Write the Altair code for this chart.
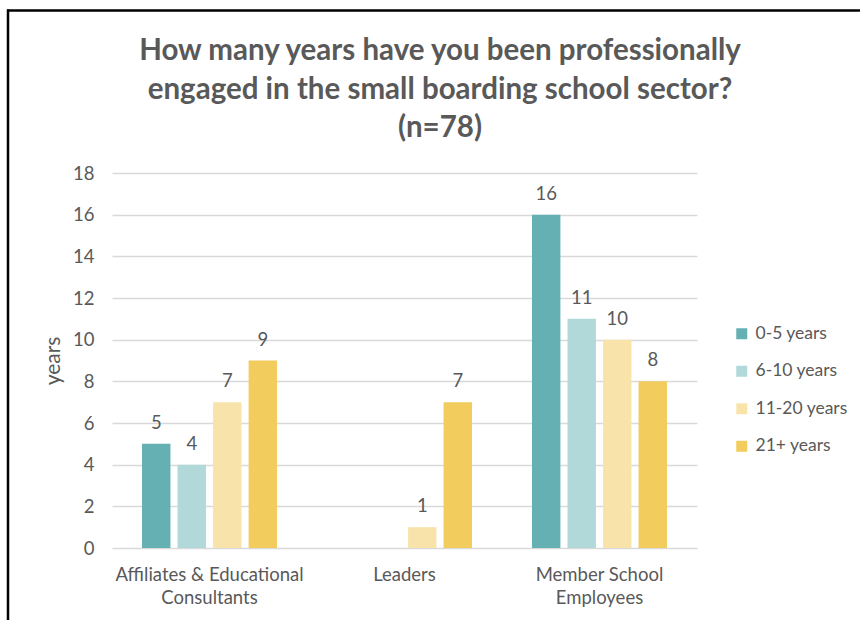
import altair as alt
import pandas as pd

categories = ["Affiliates & Educational Consultants", "Leaders", "Member School Employees"]
series = ["0-5 years", "6-10 years", "11-20 years", "21+ years"]
v_0_5 = [5, None, 16]
v_6_10 = [4, None, 11]
v_11_20 = [7, 1, 10]
v_21_plus = [9, 7, 8]
colors = ["#64B0B2", "#B2D9D9", "#F8E4AB", "#F2CC5C"]
title_lines = ["How many years have you been professionally",
               "engaged in the small boarding school sector?", "(n=78)"]

rows = []
for s, vals in zip(series, [v_0_5, v_6_10, v_11_20, v_21_plus]):
    for c, v in zip(categories, vals):
        rows.append({"category": c, "series": s, "value": v})
df = pd.DataFrame(rows)

FONT = "Lato"
GRAY = "#595959"

label_expr = ("datum.label == 'Affiliates & Educational Consultants' ? "
              "['Affiliates & Educational', 'Consultants'] : "
              "datum.label == 'Member School Employees' ? "
              "['Member School', 'Employees'] : datum.label")

x = alt.X("category:N", sort=categories,
          scale=alt.Scale(domain=categories, paddingInner=0.3077, paddingOuter=0.154),
          axis=alt.Axis(title=None, labelExpr=label_expr, labelAngle=0, ticks=False,
                        domain=False, labelPadding=17, labelFontSize=18.5, labelColor=GRAY,
                        labelFont=FONT, labelLineHeight=23.5, labelBaseline="top",
                        labelLimit=400))
xo = alt.XOffset("series:N", sort=series,
                 scale=alt.Scale(domain=series, paddingInner=0.2, paddingOuter=0))
y = alt.Y("value:Q",
          scale=alt.Scale(domain=[0, 18], nice=False),
          axis=alt.Axis(title="years", values=list(range(0, 19, 2)), tickCount=10,
                        domain=False, ticks=False, labelPadding=18, labelFontSize=18.5,
                        labelColor=GRAY, labelFont=FONT, titleFont=FONT,
                        titleFontSize=21, titleFontWeight="normal", titleColor=GRAY,
                        titlePadding=9, gridColor="#D9D9D9", gridWidth=1.5))

color = alt.Color("series:N", sort=series,
                  scale=alt.Scale(domain=series, range=colors),
                  legend=alt.Legend(title=None, orient="none", legendX=621, legendY=152,
                                    symbolType="square", symbolSize=121, symbolStrokeWidth=0,
                                    labelFontSize=17.5, labelFont=FONT, labelColor=GRAY,
                                    rowPadding=18.5, labelOffset=5, padding=0, labelLimit=300))

bars = alt.Chart(df).mark_bar().encode(x=x, xOffset=xo, y=y, color=color)
labels = alt.Chart(df).transform_filter("isValid(datum.value)").mark_text(
    baseline="bottom", dy=-11, fontSize=18.5, font=FONT, color=GRAY
).encode(x=x, xOffset=xo, y=y, text="value:Q")

frame_df = pd.DataFrame({"k": [0]})
title_text = alt.Chart(frame_df).mark_text(
    text=title_lines, fontSize=29.5, fontWeight="bold", color=GRAY, font=FONT,
    align="center", baseline="middle", lineHeight=38.5
).encode(x=alt.value(328), y=alt.value(-122))
top_line = alt.Chart(frame_df).mark_rule(color="black", strokeWidth=2.5).encode(
    x=alt.value(-105), x2=alt.value(748), y=alt.value(-162.5))
left_line = alt.Chart(frame_df).mark_rule(color="black", strokeWidth=2.5).encode(
    x=alt.value(-104), y=alt.value(-163.5), y2=alt.value(447))

chart = alt.layer(bars, labels, title_text, top_line, left_line).properties(
    width=585, height=375,
    autosize=alt.AutoSizeParams(type="none"),
    padding={"left": 112, "top": 173, "right": 163, "bottom": 72},
).configure(background="white").configure_view(strokeWidth=0)

chart.save("out.html", embed_options={"renderer": "svg", "actions": False})
